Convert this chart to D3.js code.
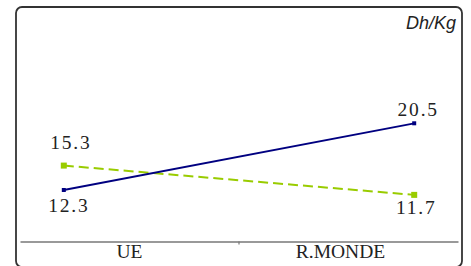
<!DOCTYPE html>
<html lang="fr">
<head>
<meta charset="utf-8">
<title>Dh/Kg UE vs R.MONDE</title>
<script src="https://cdn.jsdelivr.net/npm/d3@7"></script>
<style>
	body { margin: 0; background: #fff; }
	svg text.value { font-family: "Liberation Serif", "Times New Roman", serif; font-size: 19.5px; letter-spacing: 1.8px; fill: #222; }
	svg text.cat { font-family: "Liberation Serif", "Times New Roman", serif; font-size: 19.5px; fill: #222; }
	svg text.unit { font-family: "Liberation Sans", Arial, sans-serif; font-size: 18px; font-style: italic; fill: #222; }
</style>
</head>
<body>
<div id="chart"></div>
<script>
// data
const categories = ["UE", "R.MONDE"];
const seriesBlue = [12.3, 20.5];
const seriesGreen = [15.3, 11.7];
const unitLabel = "Dh/Kg";

const WIDTH = 471, HEIGHT = 266;

const svg = d3.select("#chart").append("svg")
	.attr("width", WIDTH)
	.attr("height", HEIGHT)
	.attr("viewBox", [0, 0, WIDTH, HEIGHT]);

// frame (bottom edge just below the window)
svg.append("rect")
	.attr("x", 16).attr("y", 7)
	.attr("width", 446).attr("height", 260)
	.attr("rx", 6)
	.attr("fill", "none")
	.attr("stroke", "#333")
	.attr("stroke-width", 1.8);

svg.append("text")
	.attr("class", "unit")
	.attr("x", 456).attr("y", 29)
	.attr("text-anchor", "end")
	.text(unitLabel);

const axisY = 241.5;
const band = d3.scaleBand().domain(categories).range([20, 458]);
const x = d3.scalePoint().domain(categories).range([20, 458]).padding(0.125);
const y = d3.scaleLinear().domain([10, 22]).range([208.7, 111.1]);

// category axis
const axis = svg.append("g")
	.attr("transform", "translate(0," + axisY + ")")
	.call(d3.axisBottom(band).tickSize(0).tickSizeOuter(0))
	.attr("font-family", null).attr("font-size", null);
axis.select(".domain").attr("stroke", "#777").attr("stroke-width", 1.5);
axis.selectAll(".tick text")
	.attr("class", "cat")
	.attr("y", 16)
	.attr("dy", null)
	.attr("dx", (d, i) => i === 1 ? -8 : 0);
// separator tick between categories
svg.append("line")
	.attr("x1", band("R.MONDE")).attr("x2", band("R.MONDE"))
	.attr("y1", axisY).attr("y2", axisY + 3)
	.attr("stroke", "#777").attr("stroke-width", 1.2);

const line = d3.line().x((d, i) => x(categories[i])).y(d => y(d));

// green dashed series
svg.append("path")
	.datum(seriesGreen)
	.attr("d", line)
	.attr("fill", "none")
	.attr("stroke", "#99cc00")
	.attr("stroke-width", 2)
	.attr("stroke-dasharray", "10,5");
svg.selectAll(".ptg").data(seriesGreen).enter().append("rect")
	.attr("x", (d, i) => x(categories[i]) - 3)
	.attr("y", d => y(d) - 3)
	.attr("width", 6).attr("height", 6)
	.attr("fill", "#99cc00");

// blue series
svg.append("path")
	.datum(seriesBlue)
	.attr("d", line)
	.attr("fill", "none")
	.attr("stroke", "#000080")
	.attr("stroke-width", 1.8);
svg.selectAll(".ptb").data(seriesBlue).enter().append("rect")
	.attr("x", (d, i) => x(categories[i]) - 2)
	.attr("y", d => y(d) - 2)
	.attr("width", 4).attr("height", 4)
	.attr("fill", "#000080");

// value labels (offsets relative to the point)
const greenOffsets = [[7, -17], [2, 19]];
const blueOffsets = [[5, 22], [4, -7]];

svg.selectAll(".lg").data(seriesGreen).enter().append("text")
	.attr("class", "value")
	.attr("text-anchor", "middle")
	.attr("x", (d, i) => x(categories[i]) + greenOffsets[i][0])
	.attr("y", (d, i) => y(d) + greenOffsets[i][1])
	.text(d => d3.format(".1f")(d));

svg.selectAll(".lb").data(seriesBlue).enter().append("text")
	.attr("class", "value")
	.attr("text-anchor", "middle")
	.attr("x", (d, i) => x(categories[i]) + blueOffsets[i][0])
	.attr("y", (d, i) => y(d) + blueOffsets[i][1])
	.text(d => d3.format(".1f")(d));
</script>
</body>
</html>
